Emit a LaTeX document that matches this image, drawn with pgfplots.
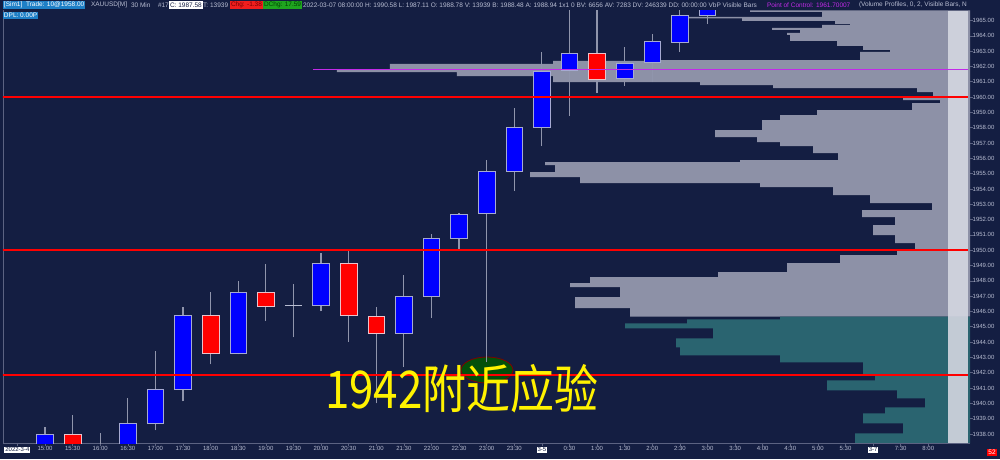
\documentclass[border=0pt]{standalone}
\usepackage{pgfplots}
\pgfplotsset{compat=1.18}
\usepackage{fontspec}
\setmainfont{Liberation Sans}
\newfontfamily\cjk{Noto Sans CJK SC}
\definecolor{navy}{HTML}{141E42}
\definecolor{profgray}{HTML}{8D91A7}
\definecolor{profteal}{HTML}{2A6470}
\definecolor{wick}{HTML}{9095AC}
\definecolor{bodyline}{HTML}{A6AAD2}
\definecolor{lbl}{HTML}{B8BDD2}
\definecolor{axisgray}{HTML}{5C6382}
\definecolor{poc}{HTML}{C22AE8}
\definecolor{infoblue}{HTML}{1E7FC6}
\definecolor{infogreen}{HTML}{1FA51F}
\definecolor{band}{HTML}{D4D7E1}
\definecolor{chgred}{HTML}{F01E1E}
\setlength{\fboxsep}{1pt}
\newcommand\bx[1]{\colorbox{white}{\textcolor{navy}{#1}}}
\newcommand\sm{\fontsize{6.5}{7.5}\selectfont}
\newcommand\tk{\fontsize{6}{7}\selectfont}
\newcommand\cdl[5]{\addplot[#1] coordinates {(#2,#4) (#3,#4) (#3,#5) (#2,#5)} --cycle;}
\begin{document}
\begin{tikzpicture}[x=1pt,y=1pt]
\fill[navy] (0,0) rectangle (1000,459);
% ---------- volume profile (length in px from the right edge) ----------
\begin{axis}[at={(3pt,16pt)}, anchor=south west, scale only axis, width=967pt, height=432.5pt,
  xmin=0, xmax=967, x dir=reverse, ymin=1937.41, ymax=1965.65, hide axis, clip=true]
\addplot[xbar interval, fill=profgray, draw=none] coordinates {
(340,1945.654) (395,1946.209) (350,1946.928) (400,1947.582) (380,1947.843)
(252,1948.235) (183,1948.562) (130,1949.150) (73,1949.673) (55,1950.000)
(75,1950.458) (97,1950.980) (75,1951.634) (108,1952.157) (38,1952.614)
(100,1953.072) (137,1953.595) (210,1954.118) (390,1954.379) (440,1954.771)
(415,1955.098) (425,1955.556) (230,1955.752) (132,1955.882) (157,1956.340)
(190,1956.797) (213,1957.059) (255,1957.386) (208,1957.843) (190,1958.497)
(153,1958.824) (58,1959.150) (30,1959.608) (67,1959.804) (37,1960.000)
(53,1960.327) (197,1960.588) (270,1960.784) (417,1960.980) (513,1961.373)
(633,1961.634) (580,1961.765) (417,1962.157) (310,1962.353) (110,1962.418)
(80,1962.941) (107,1963.072) (133,1963.333) (180,1963.660) (183,1964.052)
(170,1964.183) (198,1964.379) (148,1964.510) (120,1964.706) (135,1964.771)
(228,1964.967) (282,1965.131) (148,1965.229) (220,1965.556) (0,1965.654)};
\addplot[xbar interval, fill=profteal, draw=none] coordinates {
(115,1937.386) (67,1938.039) (107,1938.693) (85,1939.346) (45,1939.739)
(73,1940.327) (143,1940.850) (95,1941.503) (107,1941.830) (107,1942.288)
(190,1942.680) (290,1943.137) (294,1943.660) (257,1944.248) (345,1944.902)
(283,1945.229) (190,1945.490) (0,1945.654)};
\addplot[fill=band, draw=none, opacity=0.9] coordinates {(2,1937.41) (22,1937.41) (22,1965.65) (2,1965.65)} --cycle;
\end{axis}
% annotation ellipse near the 23:00 low
\filldraw[fill=green!35!black!85!navy, draw=red!50!black, line width=0.8pt] (487,89) ellipse [x radius=26, y radius=13];
\draw[axisgray, line width=0.8pt] (3,16) -- (3,448.5);
% ---------- candles ----------
\begin{axis}[at={(3pt,16pt)}, anchor=south west, scale only axis, width=967pt, height=432.5pt,
  xmin=-1.522, xmax=33.51, ymin=1937.41, ymax=1965.65,
  axis x line*=bottom, axis y line*=right,
  x axis line style={draw=axisgray, line width=0.8pt}, y axis line style={draw=none},
  tick align=outside, major tick length=3pt, tick style={draw=axisgray, line width=0.6pt},
  xtick={-1,...,32},
  xticklabels={\bx{2022-3-4},15:00,15:30,16:00,16:30,17:00,17:30,18:00,18:30,19:00,19:30,20:00,20:30,21:00,21:30,22:00,22:30,23:00,23:30,\bx{3-5},0:30,1:00,1:30,2:00,2:30,3:00,3:30,4:00,4:30,5:00,5:30,\bx{3-7},7:30,8:00},
  ytick={1938,...,1965},
  yticklabel style={/pgf/number format/fixed, /pgf/number format/fixed zerofill, /pgf/number format/precision=2, /pgf/number format/1000 sep={}, xshift=-1.5pt},
  ticklabel style={font=\tk, text=lbl, inner sep=1pt},
  xticklabel style={yshift=0.5pt},
  unbounded coords=jump, clip=true,
  /pgf/number format/assume math mode=true,
  bull/.style={fill=blue, draw=bodyline, line width=0.7pt},
  bear/.style={fill=red, draw=bodyline!60!red!40!white, line width=0.7pt}]
% wicks: (slot, low) (slot, high)
\addplot[draw=wick, line width=1.2pt] coordinates {
(0,1937.0) (0,1938.43) (0,nan)
(1,1937.0) (1,1939.22) (1,nan)
(2,1937.0) (2,1938.04) (2,nan)
(3,1937.0) (3,1940.33) (3,nan)
(4,1938.24) (4,1943.40) (4,nan)
(5,1940.13) (5,1946.27) (5,nan)
(6,1942.55) (6,1947.25) (6,nan)
(7,1943.20) (7,1947.97) (7,nan)
(8,1945.36) (8,1949.08) (8,nan)
(9,1944.31) (9,1947.78) (9,nan)
(10,1946.01) (10,1949.80) (10,nan)
(11,1943.99) (11,1950.07) (11,nan)
(12,1940.00) (12,1946.27) (12,nan)
(13,1942.37) (13,1948.37) (13,nan)
(14,1945.56) (14,1951.05) (14,nan)
(15,1950.07) (15,1952.45) (15,nan)
(16,1942.68) (16,1955.88) (16,nan)
(17,1953.86) (17,1959.28) (17,nan)
(18,1956.80) (18,1962.94) (18,nan)
(19,1958.76) (19,1966.00) (19,nan)
(20,1960.26) (20,1966.00) (20,nan)
(21,1960.72) (21,1963.27) (21,nan)
(22,1960.98) (22,1964.12) (22,nan)
(23,1962.94) (23,1966.00) (23,nan)
(24,1964.77) (24,1966.50)};
% bodies: style, left, right, open, close
\cdl{bull}{-0.3}{0.3}{1937.20}{1937.97}
\cdl{bear}{0.7}{1.3}{1937.97}{1937.20}
\cdl{bull}{2.7}{3.3}{1937.20}{1938.69}
\cdl{bull}{3.7}{4.3}{1938.69}{1940.92}
\cdl{bull}{4.7}{5.3}{1940.92}{1945.75}
\cdl{bear}{5.7}{6.3}{1945.75}{1943.27}
\cdl{bull}{6.7}{7.3}{1943.27}{1947.25}
\cdl{bear}{7.7}{8.3}{1947.25}{1946.34}
\addplot[draw=lbl, line width=1.2pt] coordinates {(8.7,1946.41) (9.3,1946.41)};
\cdl{bull}{9.7}{10.3}{1946.41}{1949.15}
\cdl{bear}{10.7}{11.3}{1949.15}{1945.75}
\cdl{bear}{11.7}{12.3}{1945.69}{1944.56}
\cdl{bull}{12.7}{13.3}{1944.54}{1946.99}
\cdl{bull}{13.7}{14.3}{1946.99}{1950.78}
\cdl{bull}{14.7}{15.3}{1950.78}{1952.35}
\cdl{bull}{15.7}{16.3}{1952.42}{1955.16}
\cdl{bull}{16.7}{17.3}{1955.16}{1958.04}
\cdl{bull}{17.7}{18.3}{1958.04}{1961.70}
\cdl{bull}{18.7}{19.3}{1961.76}{1962.88}
\cdl{bear}{19.7}{20.3}{1962.88}{1961.18}
\cdl{bull}{20.7}{21.3}{1961.24}{1962.22}
\cdl{bull}{21.7}{22.3}{1962.29}{1963.66}
\cdl{bull}{22.7}{23.3}{1963.59}{1965.36}
\cdl{bull}{23.7}{24.3}{1965.36}{1966.50}
% point of control
\addplot[draw=poc, line width=1.6pt] coordinates {(9.71,1961.80) (33.45,1961.80)};
% horizontal levels
\addplot[draw=red, line width=2.6pt] coordinates {(-1.6,1960) (33.45,1960)};
\addplot[draw=red, line width=2.6pt] coordinates {(-1.6,1950) (33.45,1950)};
\addplot[draw=red, line width=2.6pt] coordinates {(-1.6,1941.85) (33.45,1941.85)};
\end{axis}
% ---------- header texts ----------
\tikzset{seg/.style={anchor=west, inner xsep=0.8pt, inner ysep=1.2pt, font=\sm, text=lbl}}
\node[seg, fill=infoblue, text=white] at (3,454) {[Sim1]\ \ Trade: 10@1958.00};
\node[seg] at (90,454) {XAUUSD[M]};
\node[seg] at (130,454) {30 Min};
\node[seg] at (157,454) {\#17};
\node[seg, fill=white, text=navy] at (169,454) {C: 1987.58};
\node[seg, inner xsep=0pt] at (203,454) {T: 13939};
\node[seg, fill=chgred, text=red!45!black] at (230,454) {Chg: -1.38};
\node[seg, fill=infogreen, text=green!25!black] at (263,454) {DChg: 17.59};
\node[seg] at (302,454) {2022-03-07 08:00:00 H: 1990.58 L: 1987.11 O: 1988.78 V: 13939 B: 1988.48 A: 1988.94 1x1 0 BV: 6656 AV: 7283 DV: 246339 DD: 00:00:00 VbP Visible Bars};
\node[seg, text=poc] at (766,454) {Point of Control: 1961.70007};
\node[seg] at (858,454) {(Volume Profiles, 0, 2, Visible Bars, N};
\node[seg, fill=infoblue, text=white] at (3,443.5) {DPL: 0.00P};
\node[anchor=center, fill=red, text=white, inner sep=1.5pt, font=\sm] at (992,6.5) {52};
% annotation text
\node[anchor=base west, inner sep=0pt, text=yellow, font=\cjk\fontsize{52}{52}\selectfont] at (325,51) {\scalebox{0.845}[1]{1942附近应验}};
\pgfresetboundingbox
\path (0,0) rectangle (1000,459);
\end{tikzpicture}
\end{document}
